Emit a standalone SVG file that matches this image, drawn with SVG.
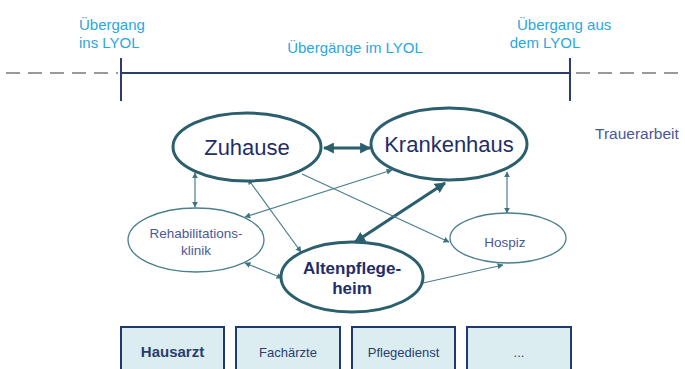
<svg xmlns="http://www.w3.org/2000/svg" width="685" height="369" viewBox="0 0 685 369">
<defs>
<marker id="ah" viewBox="0 0 10 10" refX="9" refY="5" markerWidth="6" markerHeight="6" orient="auto-start-reverse" markerUnits="userSpaceOnUse"><path d="M0,0 L10,5 L0,10 Z" fill="#3f7380"/></marker>
<marker id="ahb" viewBox="0 0 10 10" refX="9" refY="5" markerWidth="11" markerHeight="11" orient="auto-start-reverse" markerUnits="userSpaceOnUse"><path d="M0,0 L10,5 L0,10 Z" fill="#2b5f6e"/></marker>
</defs>
<style>
text{font-family:"Liberation Sans",Arial,sans-serif;}
.top{fill:#2aa7df;font-size:15px;}
.big{fill:#fff;stroke:#2b5f6e;stroke-width:3;}
.small{fill:#fff;stroke:#4a7f8c;stroke-width:1.3;}
.thin{stroke:#4a7f8c;stroke-width:1.2;fill:none;}
.thick{stroke:#2b5f6e;stroke-width:3.2;fill:none;}
.lbl{fill:#1f2d6b;}
.sm{fill:#4a5898;font-size:13.5px;}
.box{fill:#dcedf2;stroke:#1f3a6e;stroke-width:2;}
.bt{fill:#2a3d6e;font-size:13px;text-anchor:middle;}
</style>
<rect width="685" height="369" fill="#fff"/>
<g id="timeline">
<line x1="6" y1="73" x2="118" y2="73" stroke="#9a9a9a" stroke-width="2" stroke-dasharray="14,8"/>
<line x1="576" y1="73" x2="685" y2="73" stroke="#9a9a9a" stroke-width="2" stroke-dasharray="14,8"/>
<line x1="121" y1="73" x2="570" y2="73" stroke="#2a3d6e" stroke-width="2"/>
<line x1="121" y1="58" x2="121" y2="101" stroke="#2a3d6e" stroke-width="2"/>
<line x1="570" y1="58" x2="570" y2="101" stroke="#2a3d6e" stroke-width="2"/>
<text class="top" x="79" y="30">Übergang</text>
<text class="top" x="79" y="48">ins LYOL</text>
<text class="top" x="355" y="53" text-anchor="middle">Übergänge im LYOL</text>
<text class="top" x="517" y="30">Übergang aus</text>
<text class="top" x="545" y="48" text-anchor="middle">dem LYOL</text>
</g>
<g id="connectors">
<line class="thick" x1="324" y1="148" x2="370" y2="148" marker-start="url(#ahb)" marker-end="url(#ahb)"/>
<line class="thick" x1="355" y1="242" x2="445" y2="183" marker-start="url(#ahb)" marker-end="url(#ahb)"/>
<line class="thin" x1="195" y1="173" x2="195" y2="207" marker-start="url(#ah)" marker-end="url(#ah)"/>
<line class="thin" x1="507" y1="172" x2="507" y2="213" marker-start="url(#ah)" marker-end="url(#ah)"/>
<line class="thin" x1="248" y1="179" x2="301" y2="252" marker-start="url(#ah)" marker-end="url(#ah)"/>
<line class="thin" x1="392" y1="170" x2="245" y2="217" marker-start="url(#ah)" marker-end="url(#ah)"/>
<line class="thin" x1="302" y1="174" x2="449" y2="242" marker-end="url(#ah)"/>
<line class="thin" x1="245" y1="263" x2="282" y2="278" marker-start="url(#ah)" marker-end="url(#ah)"/>
<line class="thin" x1="423" y1="283" x2="503" y2="265" marker-end="url(#ah)"/>
</g>
<g id="zuhause">
<ellipse class="big" cx="247" cy="147" rx="74" ry="34"/>
<text class="lbl" x="247" y="155" font-size="22" text-anchor="middle">Zuhause</text>
</g>
<g id="krankenhaus">
<ellipse class="big" cx="449" cy="144" rx="78" ry="36"/>
<text class="lbl" x="449" y="152" font-size="22" text-anchor="middle">Krankenhaus</text>
</g>
<g id="rehabilitationsklinik">
<ellipse class="small" cx="196" cy="240" rx="68" ry="32"/>
<text class="sm" x="196" y="238" text-anchor="middle">Rehabilitations-</text>
<text class="sm" x="196" y="255" text-anchor="middle">klinik</text>
</g>
<g id="altenpflegeheim">
<ellipse class="big" cx="352" cy="277" rx="71" ry="35"/>
<text class="lbl" x="352" y="274" font-size="17" font-weight="bold" text-anchor="middle">Altenpflege-</text>
<text class="lbl" x="352" y="294" font-size="17" font-weight="bold" text-anchor="middle">heim</text>
</g>
<g id="hospiz">
<ellipse class="small" cx="508" cy="238" rx="58" ry="25"/>
<text class="sm" x="505" y="247" text-anchor="middle">Hospiz</text>
</g>
<g id="trauerarbeit">
<text class="sm" x="595" y="139" style="font-size:15.5px">Trauerarbeit</text>
</g>
<g id="hausarzt">
<rect class="box" x="121" y="327" width="103" height="50"/>
<text class="bt" x="172.5" y="357" font-weight="bold" style="font-size:15px">Hausarzt</text>
</g>
<g id="fachaerzte">
<rect class="box" x="236" y="327" width="104" height="50"/>
<text class="bt" x="288" y="357">Fachärzte</text>
</g>
<g id="pflegedienst">
<rect class="box" x="352" y="327" width="103" height="50"/>
<text class="bt" x="403.5" y="357">Pflegedienst</text>
</g>
<g id="more">
<rect class="box" x="467" y="327" width="104" height="50"/>
<text class="bt" x="519" y="357">...</text>
</g>
</svg>
